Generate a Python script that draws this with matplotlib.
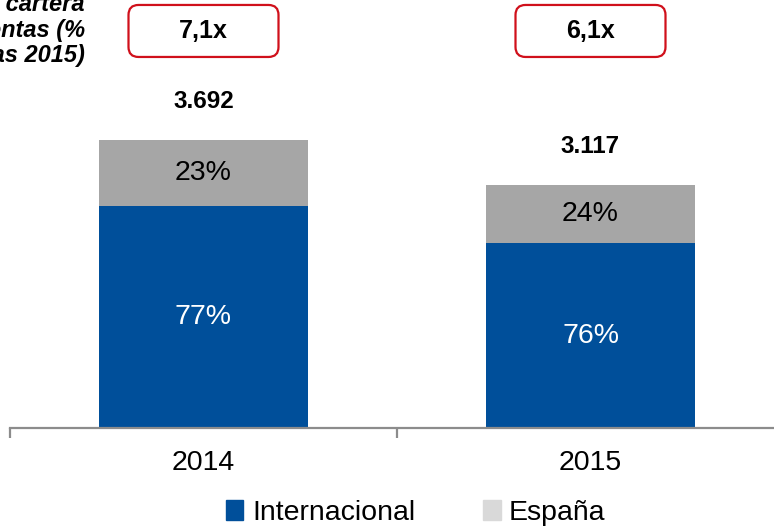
import matplotlib.pyplot as plt
from matplotlib.patches import FancyBboxPatch, Patch
from matplotlib.transforms import ScaledTranslation

plt.rcParams['font.family'] = ['Liberation Sans', 'DejaVu Sans']

years = ['2014', '2015']
totals = [3692, 3117]
intl_pct = [77, 76]
spain_pct = [23, 24]
total_labels = ['3.692', '3.117']
ratio_labels = ['7,1x', '6,1x']
series_names = ['Internacional', 'España']

BLUE = '#004F9A'
GRAY = '#A6A6A6'
LIGHT_GRAY = '#D9D9D9'
AXIS_GRAY = '#8C8C8C'
RED = '#D0101B'

intl_vals = [t * p / 100 for t, p in zip(totals, intl_pct)]
spain_vals = [t * p / 100 for t, p in zip(totals, spain_pct)]

fig = plt.figure(figsize=(7.74, 5.27), dpi=100)
ax = fig.add_axes([10 / 774, 99 / 527, 1.0, 428 / 527])

x = range(len(years))
ax.bar(x, intl_vals, width=0.54, color=BLUE)
ax.bar(x, spain_vals, bottom=intl_vals, width=0.54, color=GRAY)

ax.set_xlim(-0.5, 1.5)
ax.set_ylim(0, 5487)

for i in x:
    ax.text(i, intl_vals[i] / 2, f'{intl_pct[i]}%', ha='center', va='center',
            color='white', fontsize=20.5)
    ax.text(i, intl_vals[i] + spain_vals[i] / 2, f'{spain_pct[i]}%', ha='center',
            va='center', color='black', fontsize=20.5)
    ax.text(i, totals[i] + 490, total_labels[i], ha='center', va='center',
            fontsize=17.5, fontweight='bold')
    # rounded red box with the ratio
    tr = fig.dpi_scale_trans + ScaledTranslation(i, 5090, ax.transData)
    box = FancyBboxPatch((-0.75, -0.26), 1.5, 0.52,
                         boxstyle='round,pad=0,rounding_size=0.1',
                         transform=tr, facecolor='white', edgecolor=RED,
                         linewidth=1.6, clip_on=False)
    ax.add_patch(box)
    ax.text(i, 5090, ratio_labels[i], ha='center', va='center',
            fontsize=18, fontweight='bold')

# axis styling
for side in ['top', 'right', 'left']:
    ax.spines[side].set_visible(False)
ax.spines['bottom'].set_color(AXIS_GRAY)
ax.spines['bottom'].set_linewidth(1.6)
ax.set_yticks([])
ax.set_xticks(list(x))
ax.set_xticklabels(years, fontsize=20.5)
ax.tick_params(axis='x', which='major', length=0, pad=16)
ax.set_xticks([-0.5, 0.5, 1.5], minor=True)
ax.tick_params(axis='x', which='minor', length=7, width=1.6, color=AXIS_GRAY,
               direction='out')

fig.text(85 / 774, 1 - 30 / 527, 'Ratio cartera\nsobre ventas (%\nde ventas 2015)',
         ha='right', va='center', fontsize=17, fontweight='bold', style='italic',
         linespacing=1.15)

handles = [Patch(color=BLUE), Patch(color=LIGHT_GRAY)]
fig.legend(handles, series_names, loc='center', bbox_to_anchor=(416 / 774, 14 / 527),
           ncol=2, frameon=False, fontsize=20.5, handlelength=0.6, handleheight=0.7,
           handletextpad=0.3, columnspacing=2.4, borderpad=0)

fig.savefig('out.png', dpi=100)
